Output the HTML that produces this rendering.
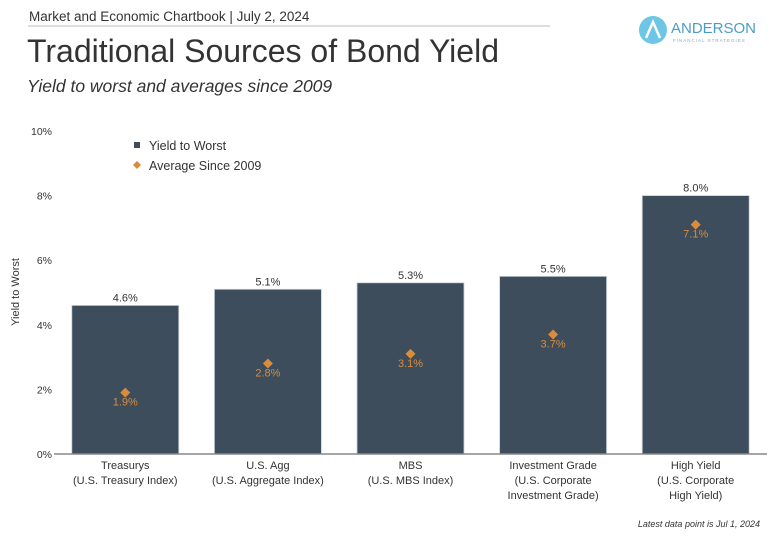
<!DOCTYPE html>
<html><head><meta charset="utf-8"><style>
body{margin:0;background:#fff;width:780px;height:538px;overflow:hidden;font-family:"Liberation Sans",sans-serif;}
svg text{font-family:"Liberation Sans",sans-serif;}
</style></head><body>
<svg width="780" height="538">
<text x="29" y="21" font-size="13.5" fill="#333">Market and Economic Chartbook | July 2, 2024</text>
<line x1="28" y1="26" x2="550" y2="26" stroke="#bbb" stroke-width="1"/>
<g>
<circle cx="653" cy="30" r="14" fill="#6ec6e6"/>
<path d="M646 38 L653 22 L660 38" stroke="#fff" stroke-width="2.5" fill="none"/>
<text x="671" y="33" font-size="15" fill="#4a9cc8">ANDERSON</text>
<text x="673" y="42" font-size="4.5" fill="#8ab" letter-spacing="1">FINANCIAL STRATEGIES</text>
</g>
<text x="27" y="62" font-size="32" fill="#333">Traditional Sources of Bond Yield</text>
<text x="27" y="92" font-size="17.5" font-style="italic" fill="#333">Yield to worst and averages since 2009</text>
<text transform="translate(19,292) rotate(-90)" text-anchor="middle" font-size="11" fill="#333">Yield to Worst</text>
<g>
<rect x="134" y="142" width="6" height="6" fill="#3d4d5c"/>
<text x="149" y="150" font-size="12.5" fill="#333">Yield to Worst</text>
<path d="M137 161 L141 165 L137 169 L133 165Z" fill="#d98c3d"/>
<text x="149" y="170" font-size="12.5" fill="#333">Average Since 2009</text>
</g>
<g id="plot"></g>
<text x="760" y="527" text-anchor="end" font-size="9" font-style="italic" fill="#333">Latest data point is Jul 1, 2024</text>
</svg>
<script>
const categories=[["Treasurys","(U.S. Treasury Index)"],["U.S. Agg","(U.S. Aggregate Index)"],["MBS","(U.S. MBS Index)"],["Investment Grade","(U.S. Corporate","Investment Grade)"],["High Yield","(U.S. Corporate","High Yield)"]];
const yieldToWorst=[4.6,5.1,5.3,5.5,8.0];
const avgSince2009=[1.9,2.8,3.1,3.7,7.1];
const yTicks=[0,2,4,6,8,10];
const NS="http://www.w3.org/2000/svg";
const g=document.getElementById('plot');
const x0=54,x1=767,y0=454,y10=131;
const ys=v=>y0-(v/10)*(y0-y10);
const bw=(x1-x0)/categories.length;
const xc=i=>x0+bw*(i+0.5);
function mk(t,a,txt){const e=document.createElementNS(NS,t);for(const k in a)e.setAttribute(k,a[k]);if(txt!=null)e.textContent=txt;g.appendChild(e);return e;}
yTicks.forEach(t=>{const e=mk('text',{x:52,y:ys(t)+4,'text-anchor':'end','font-size':10.5,fill:'#333'},t+'%');

});
categories.forEach((c,i)=>{
const w=bw*0.75;
const r=mk('rect',{x:xc(i)-w/2,y:ys(yieldToWorst[i]),width:w,height:y0-ys(yieldToWorst[i]),fill:'#3d4d5c',stroke:'#c9d0d6','stroke-width':0.8});


const l=mk('text',{x:xc(i),y:ys(yieldToWorst[i])-4,'text-anchor':'middle','font-size':11,fill:'#333'},yieldToWorst[i].toFixed(1)+'%');


const yy=ys(avgSince2009[i]),cx=xc(i);
const d=mk('path',{d:`M${cx} ${yy-5}L${cx+5} ${yy}L${cx} ${yy+5}L${cx-5} ${yy}Z`,fill:'#d98c3d'});


const dl=mk('text',{x:cx,y:yy+13,'text-anchor':'middle','font-size':11,fill:'#d98c3d'},avgSince2009[i].toFixed(1)+'%');


c.forEach((s,j)=>{const t=mk('text',{x:cx,y:469+j*15,'text-anchor':'middle','font-size':11,fill:'#333'},s);

});
});
const ax=mk('line',{x1:x0,y1:y0,x2:x1,y2:y0,stroke:'#888','stroke-width':1.5});


</script>
</body></html>
